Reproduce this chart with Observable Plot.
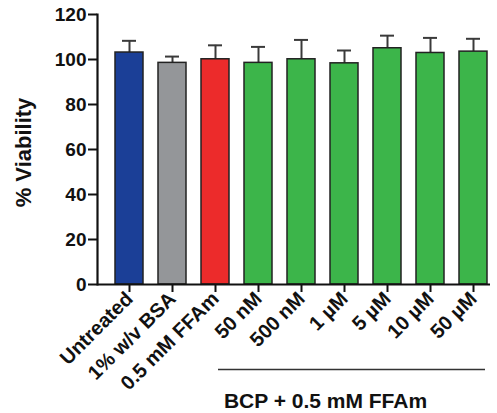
<!DOCTYPE html>
<html>
<head>
<meta charset="utf-8">
<script src="https://cdn.jsdelivr.net/npm/d3@7"></script>
<script src="https://cdn.jsdelivr.net/npm/@observablehq/plot@0.6"></script>
<style>
  html, body { margin: 0; padding: 0; background: #fff; }
  #chart svg { display: block; }
</style>
</head>
<body>
<div id="chart"></div>
<script>
const categories = ["Untreated", "1% w/v BSA", "0.5 mM FFAm", "50 nM", "500 nM", "1 µM", "5 µM", "10 µM", "50 µM"];
const means = [103.1, 98.5, 100.1, 98.5, 100.1, 98.3, 105.0, 102.9, 103.5];
const errors = [5.2, 2.8, 6.2, 7.1, 8.6, 5.7, 5.6, 6.7, 5.7];
const colors = ["#1b3f97", "#949699", "#ec2b2b", "#3cb54a", "#3cb54a", "#3cb54a", "#3cb54a", "#3cb54a", "#3cb54a"];
const yTicks = [0, 20, 40, 60, 80, 100, 120];
const groupLabel = "BCP + 0.5 mM FFAm";
const yLabel = "% Viability";

const data = categories.map((c, i) => ({cat: c, mean: means[i], err: errors[i], color: colors[i]}));
const font = "'Liberation Sans', Arial, Helvetica, sans-serif";

const chart = Plot.plot({
  width: 497,
  height: 413,
  marginTop: 14,
  marginBottom: 129,
  marginLeft: 97,
  marginRight: 7,
  style: {fontFamily: font, background: "#fff", color: "#111"},
  x: {domain: categories, paddingInner: 0.35, paddingOuter: 0.22, align: 0.84},
  y: {domain: [0, 120]},
  marks: [
    Plot.ruleX(data, {x: "cat", y1: "mean", y2: d => d.mean + d.err, stroke: "#3a3a3a", strokeWidth: 2}),
    Plot.tickY(data, {x: "cat", y: d => d.mean + d.err, stroke: "#3a3a3a", strokeWidth: 2, insetLeft: 7, insetRight: 7}),
    Plot.barY(data, {x: "cat", y: "mean", fill: "color", stroke: "#222", strokeWidth: 1.5}),
    Plot.axisY({ticks: yTicks, tickSize: 9, tickPadding: 2, fontSize: 19, fontWeight: "bold", strokeWidth: 2, stroke: "#111", label: null}),
    Plot.axisX({tickRotate: -45, tickSize: 8, tickPadding: 3, fontSize: 20, fontWeight: "bold", strokeWidth: 2, stroke: "#111", label: null}),
    Plot.frame({anchor: "left", strokeWidth: 2.2, stroke: "#111"}),
    Plot.ruleY([0], {strokeWidth: 2.2, stroke: "#111"}),
    Plot.text([yLabel], {frameAnchor: "left", textAnchor: "middle", rotate: -90, dx: -74, dy: 3, fontSize: 22, fontWeight: "bold", fill: "#111"}),
    Plot.ruleY([0], {x1: () => categories[3], x2: () => categories[8], dy: 85, insetLeft: -26, insetRight: 2, stroke: "#333", strokeWidth: 1.5}),
    Plot.text([groupLabel], {x: () => categories[5], y: () => 0, dx: -19, dy: 117, fontSize: 21, fontWeight: "bold", fill: "#111"})
  ]
});
document.getElementById("chart").appendChild(chart);
</script>
</body>
</html>
